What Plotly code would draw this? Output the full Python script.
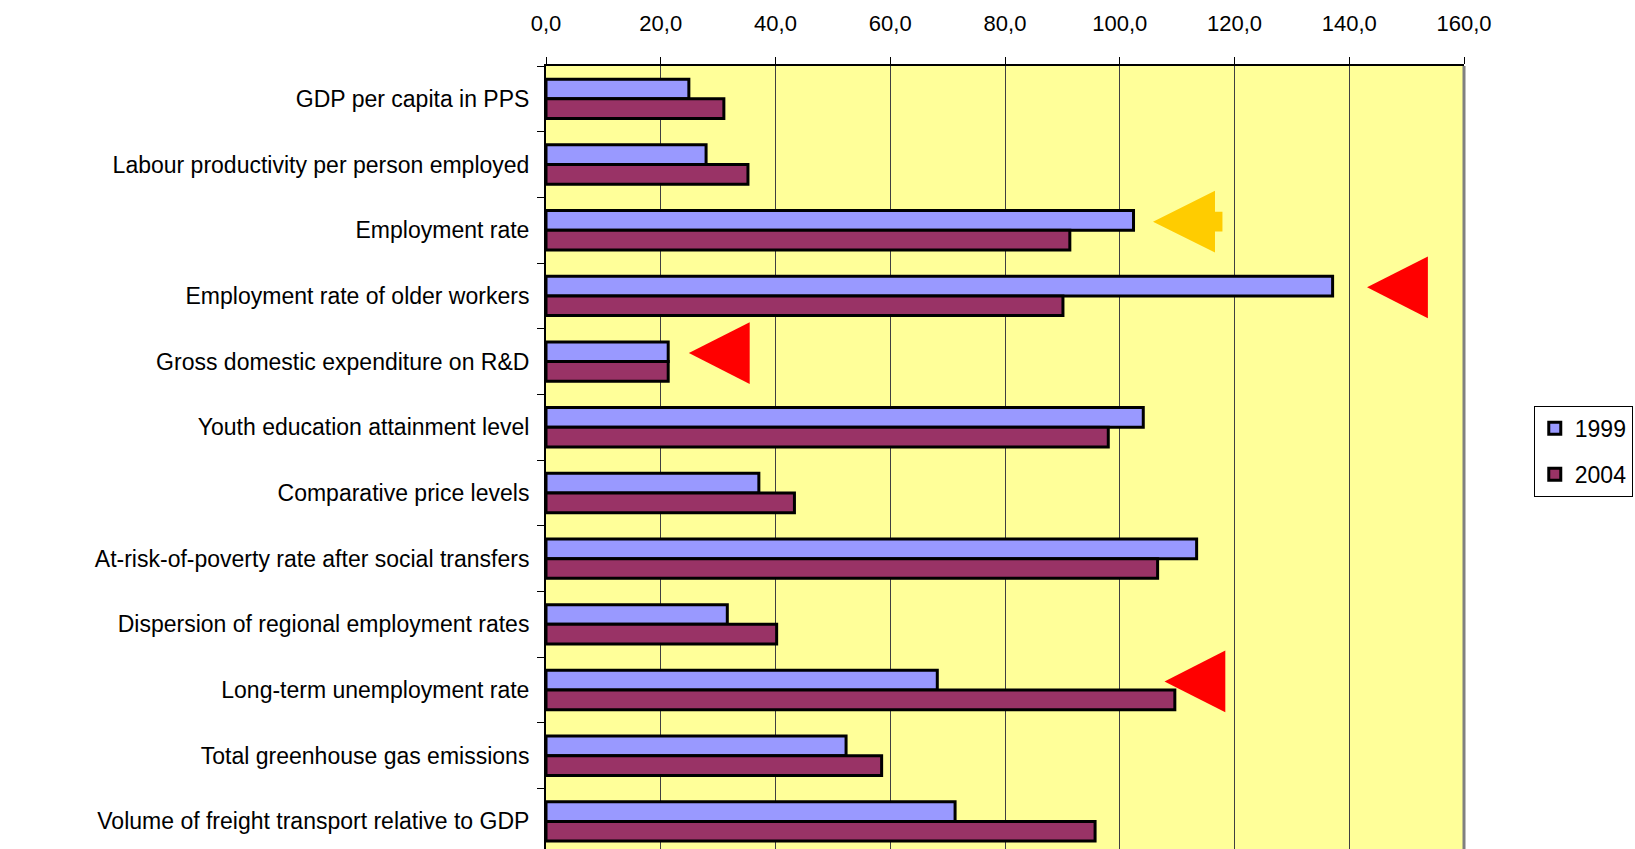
import plotly.graph_objects as go

categories = [
    "GDP per capita in PPS",
    "Labour productivity per person employed",
    "Employment rate",
    "Employment rate of older workers",
    "Gross domestic expenditure on R&D",
    "Youth education attainment level",
    "Comparative price levels",
    "At-risk-of-poverty rate after social transfers",
    "Dispersion of regional employment rates",
    "Long-term unemployment rate",
    "Total greenhouse gas emissions",
    "Volume of freight transport relative to GDP",
]
values_1999 = [24.9, 27.9, 102.4, 137.1, 21.3, 104.1, 37.1, 113.4, 31.6, 68.2, 52.3, 71.3]
values_2004 = [31.0, 35.2, 91.3, 90.1, 21.3, 98.0, 43.3, 106.6, 40.2, 109.6, 58.5, 95.7]
series_names = ["1999", "2004"]
x_ticks = [0, 20, 40, 60, 80, 100, 120, 140, 160]

# Highlight arrows (pointing left): category index, tip value, base value, colour
arrow_rows = [2, 3, 4, 9]
arrow_tips = [105.8, 143.1, 24.9, 107.8]
arrow_bases = [116.6, 153.7, 35.5, 118.4]
arrow_stem_end = [117.9, None, None, None]
arrow_colors = ["#FFCC00", "#FF0000", "#FF0000", "#FF0000"]

FONT = "Liberation Sans, Arial, sans-serif"
ypos = list(range(len(categories)))

fig = go.Figure()
fig.add_trace(go.Bar(
    y=ypos, x=values_1999, orientation="h", name=series_names[0],
    marker=dict(color="#9999FF", line=dict(color="black", width=3)),
    legendgroup="a",
))
fig.add_trace(go.Bar(
    y=ypos, x=values_2004, orientation="h", name=series_names[1],
    marker=dict(color="#993366", line=dict(color="black", width=3)),
    legendgroup="b",
))

shapes = []
half_h = 0.47
for r, tip, base, stem, col in zip(arrow_rows, arrow_tips, arrow_bases, arrow_stem_end, arrow_colors):
    yc = r - 0.13
    if stem is None:
        path = f"M {tip},{yc} L {base},{yc - half_h} L {base},{yc + half_h} Z"
    else:
        sh = 0.15
        path = (f"M {tip},{yc} L {base},{yc - half_h} L {base},{yc - sh} L {stem},{yc - sh} "
                f"L {stem},{yc + sh} L {base},{yc + sh} L {base},{yc + half_h} Z")
    shapes.append(dict(type="path", xref="x", yref="y", path=path,
                       fillcolor=col, line=dict(width=0), layer="above"))

# grey shadow border on the right of plot area
shapes.append(dict(type="line", xref="paper", yref="paper", x0=1.0, x1=1.0, y0=0, y1=1,
                   line=dict(color="#808080", width=3), layer="above"))

fig.update_layout(
    width=1635, height=849,
    margin=dict(l=546, r=171, t=66, b=0, pad=0),
    paper_bgcolor="white",
    plot_bgcolor="#FFFF99",
    barmode="group",
    bargap=0.4,
    bargroupgap=0,
    separators=", ",
    font=dict(family=FONT, size=22, color="black"),
    shapes=shapes,
    legend=dict(
        x=1.076, xanchor="left", y=0.566, yanchor="top",
        bgcolor="white", bordercolor="black", borderwidth=1,
        font=dict(family=FONT, size=23, color="black"),
        tracegroupgap=13,
        traceorder="grouped",
        itemwidth=30,
    ),
    xaxis=dict(
        side="top", range=[0, 160], tickvals=x_ticks, tickformat=".1f",
        showgrid=True, gridcolor="#404040", gridwidth=1,
        ticks="outside", ticklen=7, tickcolor="black", tickwidth=1,
        showline=True, linecolor="black", linewidth=2,
        zeroline=False, ticklabelstandoff=17,
        tickfont=dict(family=FONT, size=22, color="black"),
    ),
    yaxis=dict(
        range=[11.42, -0.5], tickvals=ypos, ticktext=categories,
        ticks="", showgrid=False, zeroline=False,
        showline=True, linecolor="black", linewidth=2,
        ticklabelstandoff=10,
        tickfont=dict(family=FONT, size=23, color="black"),
        minor=dict(tickmode="linear", tick0=-0.5, dtick=1, ticks="outside",
                   ticklen=7, tickcolor="black", tickwidth=1, showgrid=False),
    ),
)

fig.write_html("out.html", config={"displayModeBar": False},
               post_script="document.body.style.margin='0';document.body.style.overflow='hidden';")
